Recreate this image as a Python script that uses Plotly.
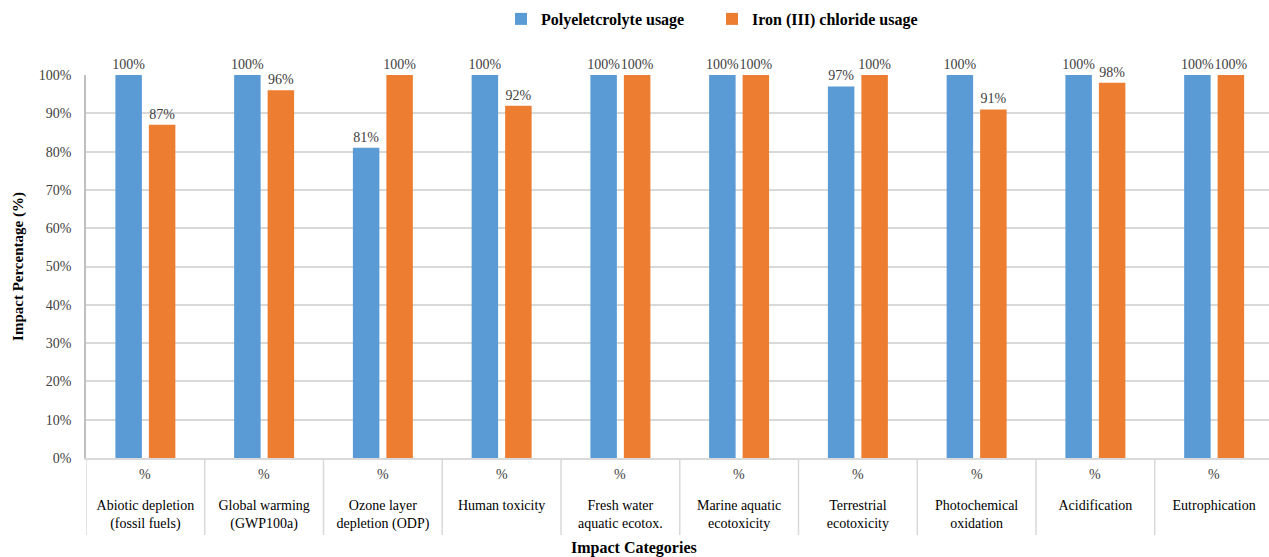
import plotly.graph_objects as go

# Impact categories (two-line labels) and scenario results, in percent
categories = [
    "Abiotic depletion<br>(fossil fuels)",
    "Global warming<br>(GWP100a)",
    "Ozone layer<br>depletion (ODP)",
    "Human toxicity",
    "Fresh water<br>aquatic ecotox.",
    "Marine aquatic<br>ecotoxicity",
    "Terrestrial<br>ecotoxicity",
    "Photochemical<br>oxidation",
    "Acidification",
    "Eutrophication",
]
polyelectrolyte = [100, 100, 81, 100, 100, 100, 97, 100, 100, 100]
iron_chloride = [87, 96, 100, 92, 100, 100, 100, 91, 98, 100]
y_ticks = [0, 10, 20, 30, 40, 50, 60, 70, 80, 90, 100]
y_tick_text = [f"{v}%" for v in y_ticks]
unit_label = "%"

FONT = "Liberation Serif, Times New Roman, serif"
BLUE = "#5B9BD5"
ORANGE = "#ED7D31"
TEXT = "#404040"
GRID = "#D9D9D9"

x_idx = list(range(len(categories)))

fig = go.Figure()
for name, vals, color in [
    ("Polyeletcrolyte usage", polyelectrolyte, BLUE),
    ("Iron (III) chloride usage", iron_chloride, ORANGE),
]:
    fig.add_trace(go.Bar(
        x=x_idx, y=vals, name=name,
        marker=dict(color=color, line=dict(width=0)),
        text=[f"{v}%" for v in vals],
        textposition="outside",
        textangle=0,
        constraintext="none",
        cliponaxis=False,
        textfont=dict(family=FONT, size=14, color=TEXT),
    ))

# category separators running through the label band
shapes = []
for i in range(len(categories)):
    shapes.append(dict(
        type="line", xref="x", yref="paper",
        x0=i - 0.5, x1=i - 0.5, y0=0, y1=-0.201,
        line=dict(color=GRID, width=1.5),
    ))

# upper label row ("%") under each category
annotations = [
    dict(x=i, y=-0.044, xref="x", yref="paper", text=unit_label,
         showarrow=False, yanchor="middle",
         font=dict(family=FONT, size=14, color=TEXT))
    for i in x_idx
]
annotations.append(dict(
    x=(634 - 86) / 1183, y=-(548 - 458) / 383, xref="paper", yref="paper",
    text="<b>Impact Categories</b>", showarrow=False, yanchor="middle",
    font=dict(family=FONT, size=16, color="#000000"),
))

fig.update_layout(
    width=1269, height=557,
    margin=dict(l=86, r=0, t=75, b=99),
    paper_bgcolor="white", plot_bgcolor="white",
    barmode="group", bargap=0.436, bargroupgap=0.209,
    font=dict(family=FONT, size=14, color=TEXT),
    legend=dict(
        orientation="h", x=(501 - 86) / 1183, xanchor="left",
        y=1 + (75 - 19) / 383, yanchor="middle",
        font=dict(family=FONT, size=16, color="#000000", weight="bold"),
        itemwidth=30, traceorder="normal",
        entrywidth=166, entrywidthmode="pixels",
    ),
    shapes=shapes,
    annotations=annotations,
)

fig.update_xaxes(
    range=[-0.5, 9.462],
    tickmode="array", tickvals=x_idx, ticktext=categories,
    ticks="", ticklabelstandoff=33,
    tickfont=dict(family=FONT, size=14, color="#000000"),
    showline=True, linecolor=GRID, linewidth=1.5,
    showgrid=False, zeroline=False,
)
fig.update_yaxes(
    range=[0, 100],
    tickmode="array", tickvals=y_ticks, ticktext=y_tick_text,
    ticklabelstandoff=10,
    tickfont=dict(family=FONT, size=14, color=TEXT),
    showgrid=True, gridcolor=GRID, gridwidth=1.5,
    showline=True, linecolor="#BFBFBF", linewidth=1.5,
    zeroline=False, ticks="",
    title=dict(text="<b>Impact Percentage (%)</b>", standoff=12,
               font=dict(family=FONT, size=15, color="#000000")),
)

fig.write_html("out.html")
